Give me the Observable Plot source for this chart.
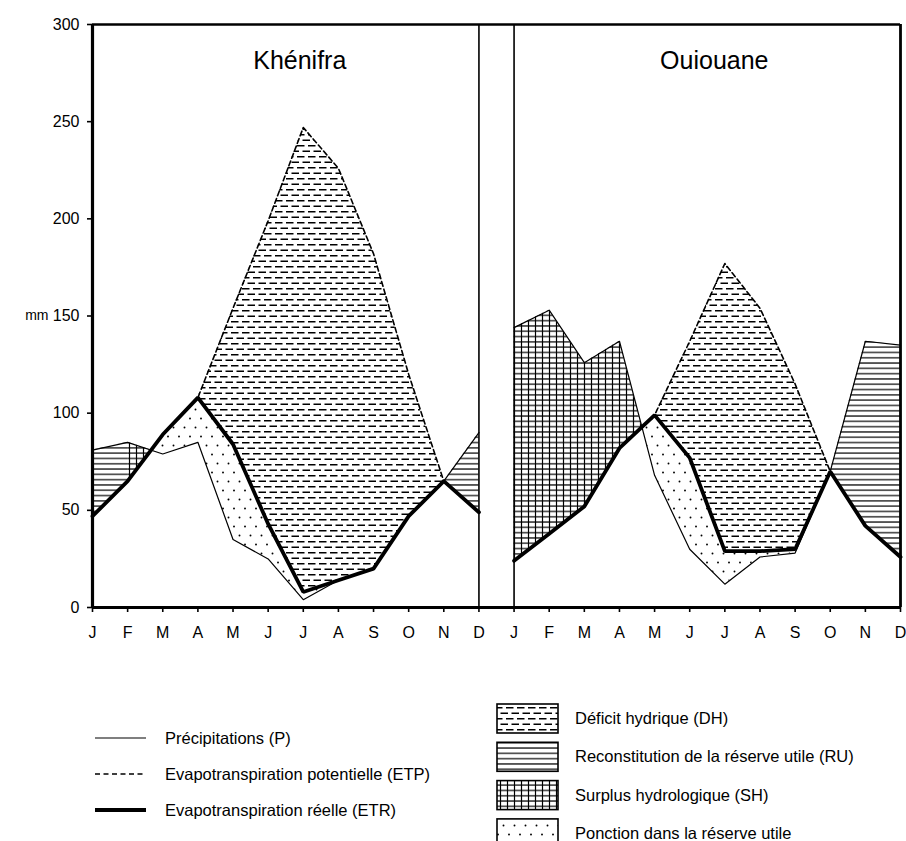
<!DOCTYPE html>
<html>
<head>
<meta charset="utf-8">
<script src="https://cdn.jsdelivr.net/npm/d3@7"></script>
<script src="https://cdn.jsdelivr.net/npm/@observablehq/plot@0.6"></script>
<style>
  html, body { margin: 0; padding: 0; background: #fff; }
  #wrap { position: relative; width: 906px; height: 841px; overflow: hidden; font-family: "Liberation Sans", Arial, sans-serif; }
  #legend { position: absolute; left: 0; top: 650px; }
</style>
</head>
<body>
<div id="wrap"><div id="chart"></div><div id="legend"></div></div>
<script>
// ---------- data ----------
const months = ["J","F","M","A","M","J","J","A","S","O","N","D"];
const yTicks = [0, 50, 100, 150, 200, 250, 300];
const stations = ["Khénifra", "Ouiouane"];
const titleX = [5.9, 17.7];

const khenifraP   = [81, 85, 79, 85, 35, 25, 4, 14, 20, 47, 65, 90];
const khenifraETP = [47, 65, 89, 108, 154, 199, 247, 226, 182, 120, 65, 49];
const khenifraETR = [47, 65, 89, 108, 84, 43, 8, 14, 20, 47, 65, 49];

const ouiouaneP   = [144, 153, 126, 137, 68, 30, 12, 26, 28, 70, 137, 135];
const ouiouaneETP = [24, 38, 52, 82, 99, 137, 177, 154, 115, 70, 42, 26];
const ouiouaneETR = [24, 38, 52, 82, 99, 77, 29, 29, 30, 70, 42, 26];

// ---------- helpers ----------
function interp(arr, x) {
  const i = Math.floor(x), f = x - i;
  if (f === 0 || i >= arr.length - 1) return arr[Math.min(i, arr.length - 1)];
  return arr[i] * (1 - f) + arr[i + 1] * f;
}
function crossing(a, b, lo) {
  const d0 = a[lo] - b[lo], d1 = a[lo + 1] - b[lo + 1];
  return lo + d0 / (d0 - d1);
}
function band(lower, upper, from, to, offset) {
  const xs = [from];
  for (let i = Math.ceil(from); i <= Math.floor(to); i++) if (i > from && i < to) xs.push(i);
  xs.push(to);
  return xs.map(x => ({x: x + offset, y1: interp(lower, x), y2: interp(upper, x)}));
}

const kc = crossing(khenifraP, khenifraETR, 1);
const oc = crossing(ouiouaneP, ouiouaneETR, 3);

// water-balance phases (pattern, lower series, upper series, month span)
const phases = [
  {fill: "RU", data: band(khenifraETR, khenifraP, 0, 1, 0)},
  {fill: "SH", data: band(khenifraETR, khenifraP, 1, kc, 0)},
  {fill: "PO", data: band(khenifraP, khenifraETR, kc, 7, 0)},
  {fill: "DH", data: band(khenifraETR, khenifraETP, 3, 10, 0)},
  {fill: "RU", data: band(khenifraETR, khenifraP, 10, 11, 0)},
  {fill: "SH", data: band(ouiouaneETR, ouiouaneP, 0, oc, 12)},
  {fill: "PO", data: band(ouiouaneP, ouiouaneETR, oc, 9, 12)},
  {fill: "DH", data: band(ouiouaneETR, ouiouaneETP, 4, 9, 12)},
  {fill: "RU", data: band(ouiouaneETR, ouiouaneP, 9, 11, 12)}
];

function series(a, b) {
  return [...a.map((v, i) => ({x: i, y: v, s: 0})), ...b.map((v, i) => ({x: i + 12, y: v, s: 1}))];
}
const P = series(khenifraP, ouiouaneP);
const ETP = series(khenifraETP, ouiouaneETP);
const ETR = series(khenifraETR, ouiouaneETR);
const titles = stations.map((name, i) => ({name, x: titleX[i]}));

// ---------- patterns ----------
function patternDefs(prefix) {
  return `
  <pattern id="${prefix}DH" patternUnits="userSpaceOnUse" width="11" height="11">
    <rect width="11" height="11" fill="white"/>
    <line x1="0" y1="2.75" x2="7.5" y2="2.75" stroke="black" stroke-width="1.5"/>
    <line x1="5.5" y1="8.25" x2="11" y2="8.25" stroke="black" stroke-width="1.5"/>
    <line x1="0" y1="8.25" x2="2" y2="8.25" stroke="black" stroke-width="1.5"/>
  </pattern>
  <pattern id="${prefix}RU" patternUnits="userSpaceOnUse" width="10" height="5.3">
    <rect width="10" height="5.3" fill="white"/>
    <line x1="0" y1="2.65" x2="10" y2="2.65" stroke="black" stroke-width="1.2"/>
  </pattern>
  <pattern id="${prefix}SH" patternUnits="userSpaceOnUse" width="7" height="5.3">
    <rect width="7" height="5.3" fill="white"/>
    <line x1="0" y1="2.65" x2="7" y2="2.65" stroke="black" stroke-width="1.2"/>
    <line x1="3.5" y1="0" x2="3.5" y2="5.3" stroke="black" stroke-width="1.2"/>
  </pattern>
  <pattern id="${prefix}PO" patternUnits="userSpaceOnUse" width="11" height="18">
    <rect width="11" height="18" fill="white"/>
    <circle cx="3" cy="4.5" r="0.95" fill="black"/>
    <circle cx="8.5" cy="13.5" r="0.95" fill="black"/>
  </pattern>`;
}

// ---------- plot ----------
const font = "Liberation Sans, Arial, sans-serif";
const marks = [];
for (const ph of phases) {
  marks.push(Plot.areaY(ph.data, {x: "x", y1: "y1", y2: "y2", fill: `url(#c${ph.fill})`, curve: "linear"}));
}
marks.push(
  Plot.line(P, {x: "x", y: "y", z: "s", stroke: "black", strokeWidth: 1.2}),
  Plot.line(ETP, {x: "x", y: "y", z: "s", stroke: "black", strokeWidth: 1.6, strokeDasharray: "5,3"}),
  Plot.line(ETR, {x: "x", y: "y", z: "s", stroke: "black", strokeWidth: 3.8, strokeLinejoin: "miter"}),
  Plot.ruleX([11, 12], {y1: 0, y2: 300, stroke: "black", strokeWidth: 1.6}),
  Plot.ruleX([0], {y1: 0, y2: 300, stroke: "black", strokeWidth: 3.2}),
  Plot.ruleX([23], {y1: 0, y2: 300, stroke: "black", strokeWidth: 2.8}),
  Plot.ruleY([300], {x1: 0, x2: 23, stroke: "black", strokeWidth: 2.6}),
  Plot.ruleY([0], {x1: 0, x2: 23, stroke: "black", strokeWidth: 3.2}),
  Plot.axisY({ticks: yTicks, tickSize: 5, tickPadding: 8, fontSize: 16, strokeWidth: 1.6, label: null}),
  Plot.axisX({ticks: d3.range(24), tickFormat: i => months[i % 12], tickSize: 5, tickPadding: 14, fontSize: 16, strokeWidth: 1.6, label: null}),
  Plot.text(["mm"], {frameAnchor: "left", x: 0, y: [150], dx: -44, textAnchor: "end", fontSize: 14}),
  Plot.text(titles, {x: "x", text: "name", frameAnchor: "top", dy: 27, lineAnchor: "top", fontSize: 25})
);

const chart = Plot.plot({
  width: 906,
  height: 650,
  marginLeft: 92,
  marginRight: 6,
  marginTop: 24,
  marginBottom: 43,
  style: {fontFamily: font, color: "black", background: "white", overflow: "visible"},
  x: {domain: [0, 23], axis: null},
  y: {domain: [0, 300], axis: null},
  marks
});
const defsEl = document.createElementNS("http://www.w3.org/2000/svg", "defs");
defsEl.innerHTML = patternDefs("c");
chart.insertBefore(defsEl, chart.firstChild);
document.getElementById("chart").appendChild(chart);

// ---------- legend ----------
const lineItems = [
  {label: "Précipitations (P)", w: 1.2, dash: null},
  {label: "Evapotranspiration potentielle (ETP)", w: 1.6, dash: "5,3.5"},
  {label: "Evapotranspiration réelle (ETR)", w: 3.8, dash: null}
];
const boxItems = [
  {label: "Déficit hydrique (DH)", p: "DH"},
  {label: "Reconstitution de la réserve utile (RU)", p: "RU"},
  {label: "Surplus hydrologique (SH)", p: "SH"},
  {label: "Ponction dans la réserve utile", p: "PO"}
];
let lg = `<svg xmlns="http://www.w3.org/2000/svg" width="906" height="191" style="font-family:${font};font-size:16.5px">
<defs>${patternDefs("l")}</defs>`;
lineItems.forEach((d, i) => {
  const y = 88 + i * 36;
  lg += `<line x1="95" x2="146" y1="${y}" y2="${y}" stroke="black" stroke-width="${d.w}" ${d.dash ? `stroke-dasharray="${d.dash}"` : ""}/>`;
  lg += `<text x="165" y="${y + 6}">${d.label}</text>`;
});
boxItems.forEach((d, i) => {
  const y = 54 + i * 38.3;
  lg += `<rect x="497" y="${y}" width="61" height="29" fill="url(#l${d.p})" stroke="black" stroke-width="1.6"/>`;
  lg += `<text x="575" y="${y + 20}">${d.label}</text>`;
});
lg += `</svg>`;
document.getElementById("legend").innerHTML = lg;
</script>
</body>
</html>
